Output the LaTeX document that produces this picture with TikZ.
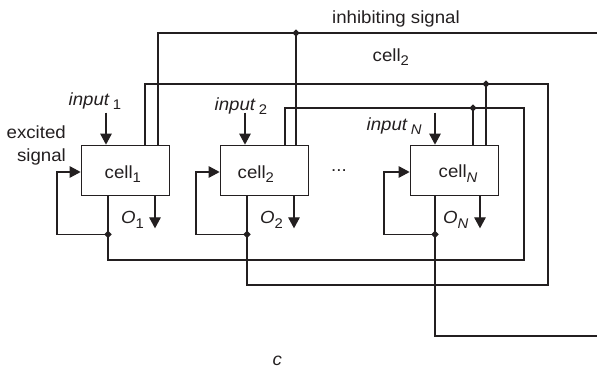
\documentclass[tikz,border=0pt]{standalone}
\usepackage{fontspec}
\setmainfont{Liberation Sans}[FakeStretch=1.06]
\usetikzlibrary{arrows.meta,shapes.geometric,calc}
\definecolor{ink}{RGB}{35,31,32}
\newcommand\sbs[1]{\raisebox{-4.5pt}{\fontsize{14}{15}\selectfont #1}}
\begin{document}
\begin{tikzpicture}[x=1pt,y=-1pt,
  font=\fontsize{17.6}{20}\selectfont,
  cellbox/.style={draw=ink,line width=1.7pt,minimum width=88pt,minimum height=50pt,inner sep=0pt},
  wire/.style={draw=ink,line width=1.25pt},
  arr/.style={wire,-{Triangle[length=11pt,width=11.5pt]}},
  junction/.style={diamond,fill=ink,inner sep=0pt,minimum size=7.5pt},
  lbl/.style={text=ink,inner sep=0pt}]
\useasboundingbox (0,0) rectangle (597,370);

% cells
\node[cellbox] (c1) at (125.5,170.5) {};
\node[cellbox] (c2) at (264.5,170.5) {};
\node[cellbox] (cN) at (454.5,170.5) {};

\node[lbl,anchor=base west] (t1) at ([xshift=-21pt,yshift=-7.5pt]c1.center) {cell\sbs{1}};
\node[lbl,anchor=base west] (t2) at ([xshift=-27pt,yshift=-7.5pt]c2.center) {cell\sbs{2}};
\node[lbl,anchor=base west] (tN) at ([xshift=-16pt,yshift=-7pt]cN.center) {cell\sbs{\textit{N}}};

% ports
\coordinate (c1i) at ([xshift=-19.5pt]c1.north);
\coordinate (c1t1) at ([xshift=19.5pt]c1.north);
\coordinate (c1t2) at ([xshift=32.5pt]c1.north);
\coordinate (c1b) at ([xshift=-17.5pt]c1.south);
\coordinate (c1o) at ([xshift=29.5pt]c1.south);
\coordinate (c1l) at ([yshift=-1.5pt]c1.west);

\coordinate (c2i) at ([xshift=-19.5pt]c2.north);
\coordinate (c2t1) at ([xshift=20.5pt]c2.north);
\coordinate (c2t2) at ([xshift=31.5pt]c2.north);
\coordinate (c2b) at ([xshift=-17.5pt]c2.south);
\coordinate (c2o) at ([xshift=29.5pt]c2.south);
\coordinate (c2l) at ([yshift=-1.5pt]c2.west);

\coordinate (cNi) at ([xshift=-19.5pt]cN.north);
\coordinate (cNt1) at ([xshift=18.5pt]cN.north);
\coordinate (cNt2) at ([xshift=31.5pt]cN.north);
\coordinate (cNb) at ([xshift=-19.5pt]cN.south);
\coordinate (cNo) at ([xshift=25.5pt]cN.south);
\coordinate (cNl) at ([yshift=-1.5pt]cN.west);

% route corners and free ends
\coordinate (inhR) at (597,33);
\coordinate (aNE) at (548,84);
\coordinate (aSE) at (548,285);
\coordinate (bNE) at (524,108);
\coordinate (bSE) at (524,260);
\coordinate (nR) at (597,336);

% inhibiting signal bus
\draw[wire] (c1t2) |- (inhR);
\node[junction] (j1) at (c2t2 |- inhR) {};
\draw[wire] (j1.center) -- (c2t2);

% loop from cell1 top to cell2 bottom
\draw[wire] (c1t1) |- (aNE) -- (aSE) -| (c2b);
\node[junction] (jA) at (cNt2 |- aNE) {};
\draw[wire] (jA.center) -- (cNt2);

% loop from cell2 top to cell1 bottom
\draw[wire] (c2t1) |- (bNE) -- (bSE) -| (c1b);
\node[junction] (jB) at (cNt1 |- bNE) {};
\draw[wire] (jB.center) -- (cNt1);

% cellN bottom line
\draw[wire] (cNb) |- (nR);

% feedback loops
\node[junction] (f1) at ([yshift=-38pt]c1b) {};
\node[junction] (f2) at ([yshift=-38pt]c2b) {};
\node[junction] (fN) at ([yshift=-38pt]cNb) {};
\draw[arr] (f1.center) -- ++(-51,0) |- (c1l);
\draw[arr] (f2.center) -- ++(-51,0) |- (c2l);
\draw[arr] (fN.center) -- ++(-51,0) |- (cNl);

% outputs
\draw[arr] (c1o) -- ++(0,32);
\draw[arr] (c2o) -- ++(0,32);
\draw[arr] (cNo) -- ++(0,32);

% inputs
\draw[arr] ([yshift=32pt]c1i) -- (c1i);
\draw[arr] ([yshift=32pt]c2i) -- (c2i);
\draw[arr] ([yshift=32pt]cNi) -- (cNi);

% labels
\node[lbl,anchor=base west] (linh) at (332,23) {inhibiting signal};
\node[lbl,anchor=base west] (lc2) at (372.5,61) {cell\sbs{2}};
\node[lbl,anchor=base east] (lex1) at (66,138) {excited};
\node[lbl,anchor=base east] (lex2) at (66,161) {signal};
\node[lbl,anchor=base west] (li1) at (68.5,105) {\textit{input}\kern3pt\sbs{1}};
\node[lbl,anchor=base west] (li2) at (214.5,110) {\textit{input}\kern3pt\sbs{2}};
\node[lbl,anchor=base west] (liN) at (366.5,130) {\textit{input}\kern3pt\sbs{\textit{N}}};
\node[lbl,anchor=base west] (lo1) at (121,223.5) {\textit{O}\sbs{1}};
\node[lbl,anchor=base west] (lo2) at (260,223.5) {\textit{O}\sbs{2}};
\node[lbl,anchor=base west] (loN) at (443,223.5) {\textit{O}\sbs{\textit{N}}};
\node[lbl,anchor=base west] (ldots) at (331,171.5) {...};
\node[lbl,anchor=base west] (lc) at (272.5,365.5) {\textit{c}};
\end{tikzpicture}
\end{document}
